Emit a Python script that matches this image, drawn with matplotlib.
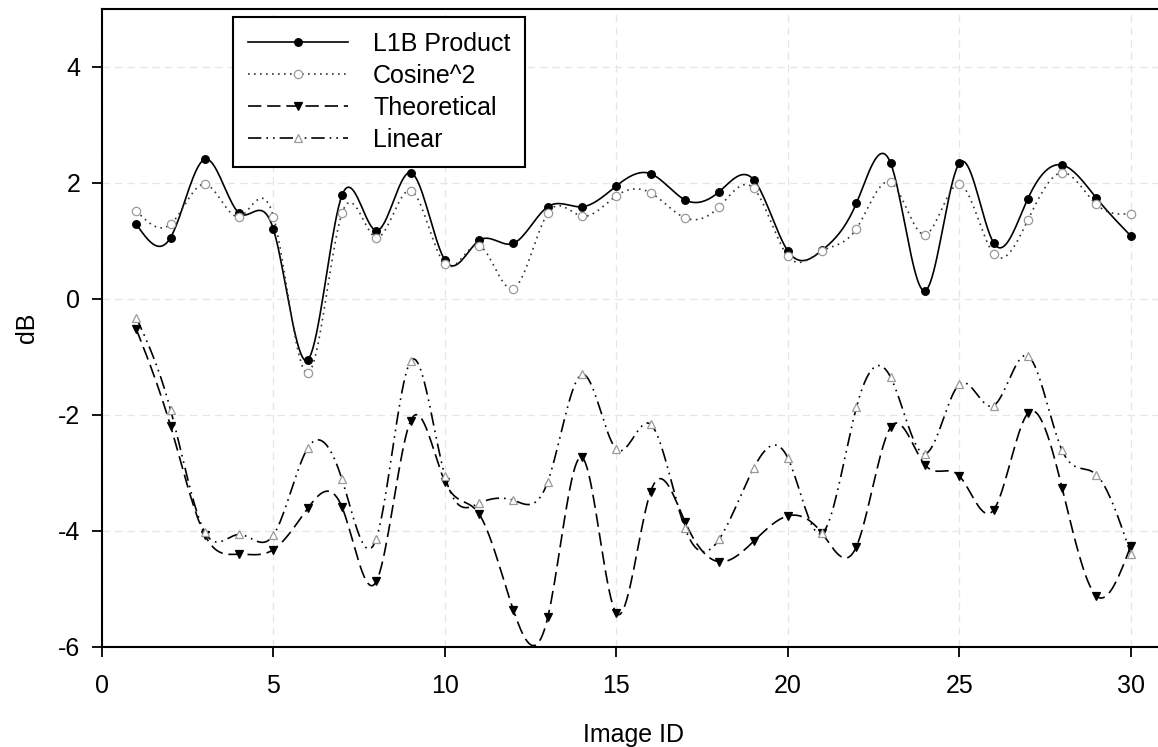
import numpy as np
import matplotlib
matplotlib.use('Agg')
import matplotlib.pyplot as plt

plt.rcParams['font.family'] = ['Liberation Sans', 'DejaVu Sans']
plt.rcParams['axes.unicode_minus'] = False

image_id = np.arange(1, 31)

l1b = [1.29, 1.06, 2.41, 1.48, 1.20, -1.05, 1.79, 1.18, 2.18, 0.67,
       1.01, 0.96, 1.59, 1.59, 1.95, 2.16, 1.71, 1.85, 2.06, 0.83,
       0.84, 1.65, 2.34, 0.14, 2.34, 0.97, 1.73, 2.31, 1.74, 1.09]
cosine2 = [1.52, 1.29, 1.98, 1.42, 1.42, -1.28, 1.48, 1.06, 1.87, 0.60,
           0.92, 0.18, 1.48, 1.43, 1.78, 1.83, 1.40, 1.59, 1.91, 0.74,
           0.83, 1.21, 2.01, 1.11, 1.98, 0.78, 1.36, 2.18, 1.63, 1.47]
theoretical = [-0.52, -2.19, -4.07, -4.40, -4.32, -3.61, -3.59, -4.87, -2.10, -3.15,
               -3.71, -5.37, -5.49, -2.73, -5.42, -3.32, -3.84, -4.53, -4.18, -3.74,
               -4.04, -4.27, -2.21, -2.86, -3.05, -3.64, -1.97, -3.26, -5.12, -4.26]
linear = [-0.32, -1.91, -4.02, -4.06, -4.07, -2.57, -3.11, -4.13, -1.07, -3.05,
          -3.52, -3.47, -3.15, -1.30, -2.59, -2.16, -3.95, -4.14, -2.92, -2.74,
          -4.04, -1.87, -1.35, -2.67, -1.47, -1.84, -0.98, -2.61, -3.03, -4.39]


def spline(x, y, per=20):
    # natural cubic spline through the points, like SigmaPlot's spline curve
    x = np.asarray(x, float)
    y = np.asarray(y, float)
    n = len(x)
    h = np.diff(x)
    A = np.zeros((n, n))
    r = np.zeros(n)
    A[0, 0] = A[-1, -1] = 1
    for i in range(1, n - 1):
        A[i, i - 1] = h[i - 1]
        A[i, i] = 2 * (h[i - 1] + h[i])
        A[i, i + 1] = h[i]
        r[i] = 6 * ((y[i + 1] - y[i]) / h[i] - (y[i] - y[i - 1]) / h[i - 1])
    M = np.linalg.solve(A, r)
    xs, ys = [], []
    for i in range(n - 1):
        t = np.linspace(x[i], x[i + 1], per, endpoint=False)
        a = x[i + 1] - t
        b = t - x[i]
        s = (M[i] * a**3 + M[i + 1] * b**3) / (6 * h[i]) \
            + (y[i] / h[i] - M[i] * h[i] / 6) * a \
            + (y[i + 1] / h[i] - M[i + 1] * h[i] / 6) * b
        xs.append(t)
        ys.append(s)
    xs.append([x[-1]])
    ys.append([y[-1]])
    return np.concatenate(xs), np.concatenate(ys), list(range(0, per * (n - 1) + 1, per))


fig = plt.figure(figsize=(11.58, 7.47), dpi=100)
ax = fig.add_axes([102 / 1158, 1 - 647 / 747, 1063 / 1158, 638 / 747])

series = [
    (l1b, 'L1B Product', dict(ls='-', marker='o', mfc='black', mec='black', ms=5.5, color='black')),
    (cosine2, 'Cosine^2', dict(ls=(0, (1, 2.6)), marker='o', mfc='white', mec='#9a9a9a', ms=6, color='#333333')),
    (theoretical, 'Theoretical', dict(ls=(0, (8, 3.5)), marker='v', mfc='black', mec='black', ms=5.5, color='black')),
    (linear, 'Linear', dict(ls=(0, (8, 3, 1, 3, 1, 3)), marker='^', mfc='white', mec='#9a9a9a', ms=6, color='black')),
]
for vals, name, style in series:
    xs, ys, idx = spline(image_id, vals)
    ax.plot(xs, ys, lw=1.2, mew=0.9, markevery=idx, label=name, **style)

ax.set_xlim(0, 31)
ax.set_ylim(-6, 5)
ax.set_xticks(range(0, 31, 5))
ax.set_yticks(range(-6, 5, 2))
ax.grid(True, color='#e6e6e6', ls=(0, (6, 4)), lw=0.9)
for s in ax.spines.values():
    s.set_linewidth(1.5)
ax.tick_params(direction='out', length=7.5, width=1.3, labelsize=18)
ax.tick_params(axis='x', pad=12)
ax.tick_params(axis='y', pad=8)
ax.set_xlabel('Image ID', fontsize=18, labelpad=18)
ax.set_ylabel('dB', fontsize=18, labelpad=14)

leg = ax.legend(loc='upper left', bbox_to_anchor=(233 / 1158, 1 - 17 / 747),
                bbox_transform=fig.transFigure, fontsize=18, numpoints=1,
                handlelength=4.0, handletextpad=1.0, labelspacing=0.32,
                borderpad=0.6, fancybox=False, framealpha=1, borderaxespad=0)
leg.get_frame().set_edgecolor('black')
leg.get_frame().set_linewidth(1.5)

plt.savefig('out.png', dpi=100)
